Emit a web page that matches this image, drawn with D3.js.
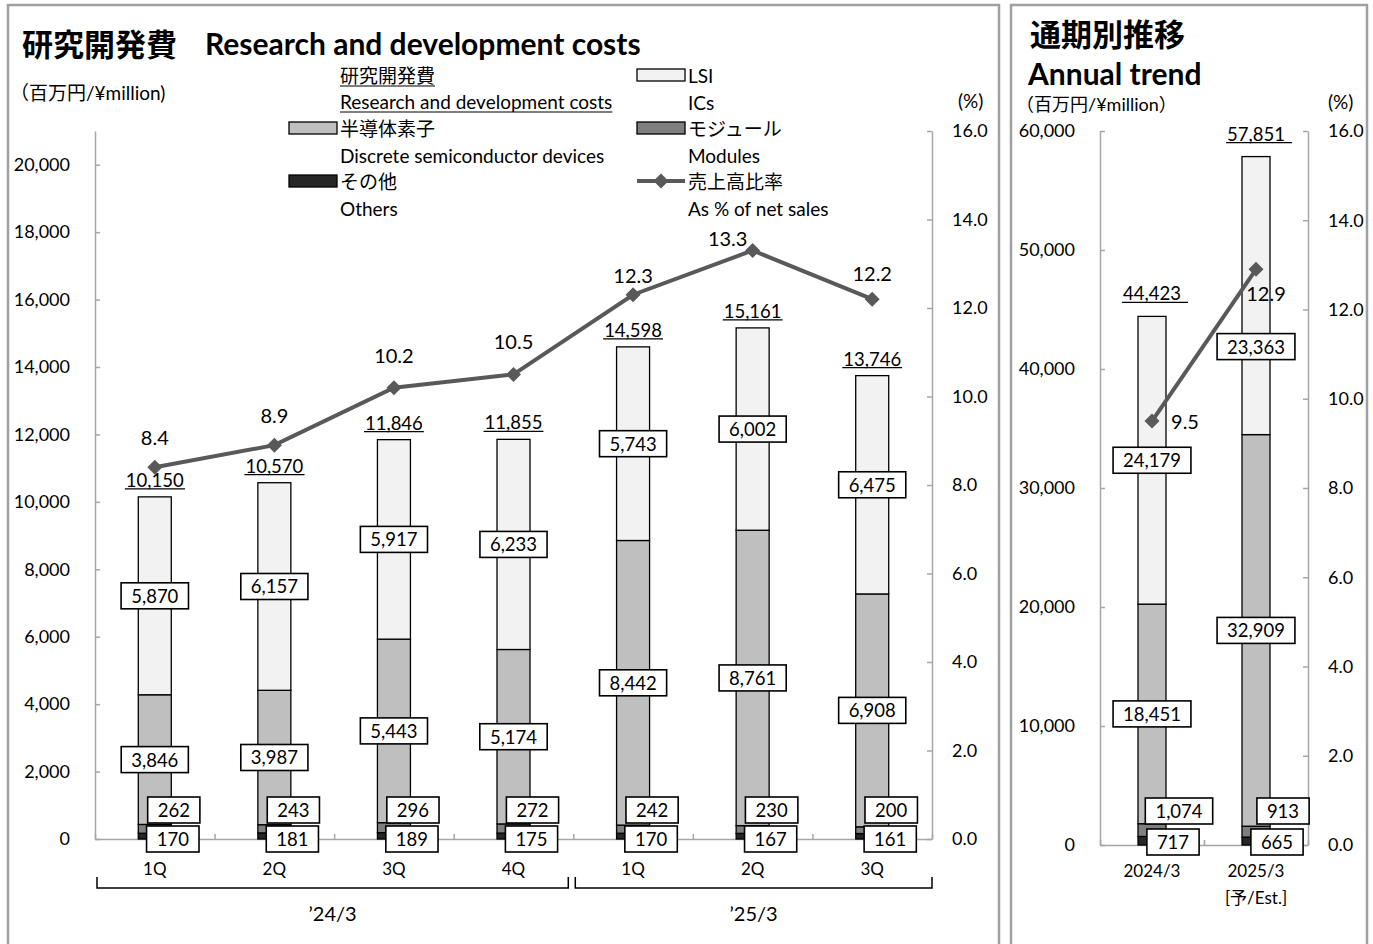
<!DOCTYPE html>
<html><head><meta charset="utf-8">
<script src="https://cdn.jsdelivr.net/npm/d3@7"></script>
<style>
body{margin:0;background:#fff;}
svg text{font-family:Lato,"Noto Sans CJK JP",sans-serif;fill:#000;}
</style></head><body>
<svg id="c" width="1373" height="944"></svg>
<script>
// ---------------- data ----------------
const quarters = ["1Q","2Q","3Q","4Q","1Q","2Q","3Q"];
const fiscalGroups = ["’24/3","’25/3"];
const lsiQ = [5870,6157,5917,6233,5743,6002,6475];
const discreteQ = [3846,3987,5443,5174,8442,8761,6908];
const modulesQ = [262,243,296,272,242,230,200];
const othersQ = [170,181,189,175,170,167,161];
const totalQ = [10150,10570,11846,11855,14598,15161,13746];
const ratioQ = [8.4,8.9,10.2,10.5,12.3,13.3,12.2];

const years = ["2024/3","2025/3"];
const yearSub = ["","[予/Est.]"];
const lsiY = [24179,23363];
const discreteY = [18451,32909];
const modulesY = [1074,913];
const othersY = [717,665];
const totalY = [44423,57851];
const ratioY = [9.5,12.9];

const quarterTicks = [0,2000,4000,6000,8000,10000,12000,14000,16000,18000,20000];
const annualTicks = [0,10000,20000,30000,40000,50000,60000];
const pctTicks = [0,2,4,6,8,10,12,14,16];

// ---------------- styles ----------------
const COLORS = {others:"#262626", modules:"#7f7f7f", discrete:"#bfbfbf", lsi:"#f2f2f2"};
const LINE = "#595959";
const AXIS = "#a6a6a6";
const JP = '"Noto Sans CJK JP",sans-serif';
const keys = ["others","modules","discrete","lsi"];

const svg = d3.select("#c");
const fmt = d3.format(",");

// panel borders
svg.append("rect").attr("x",8).attr("y",5).attr("width",991).attr("height",950)
  .attr("fill","none").attr("stroke","#a0a0a0").attr("stroke-width",2.5);
svg.append("rect").attr("x",1011).attr("y",5).attr("width",356).attr("height",950)
  .attr("fill","none").attr("stroke","#a0a0a0").attr("stroke-width",2.5);

function diamond(g, x, y){
  g.append("path").attr("d",`M${x-7.5},${y}L${x},${y-7.5}L${x+7.5},${y}L${x},${y+7.5}Z`)
   .attr("fill",LINE);
}

function boxLabel(g, x, y, txt){
  const gg = g.append("g");
  const t = gg.append("text").attr("x",x).attr("y",y).attr("text-anchor","middle")
    .attr("dominant-baseline","central").style("font-size","18.5px").text(txt);
  const bb = t.node().getBBox();
  gg.insert("rect","text").attr("x",x-bb.width/2-10).attr("y",y-13)
    .attr("width",bb.width+20).attr("height",26).attr("fill","#fff")
    .attr("stroke","#000").attr("stroke-width",1.6);
}

function underLabel(g, x, y, txt, extra){
  const t = g.append("text").attr("x",x).attr("y",y).attr("text-anchor","middle")
    .attr("dominant-baseline","central").style("font-size","18.5px").text(txt);
  const bb = t.node().getBBox();
  g.append("line").attr("x1",bb.x-1).attr("x2",bb.x+bb.width+1+extra)
    .attr("y1",y+9).attr("y2",y+9).attr("stroke","#000").attr("stroke-width",1.3);
}

function panel(o){
  const g = svg.append("g");
  const n = o.cats.length;
  const x = d3.scaleBand().domain(d3.range(n)).range([o.x0,o.x1]).padding(0);
  const xi = d3.scaleLinear().domain([0,n]).range([o.x0,o.x1]);
  const y = d3.scaleLinear().domain([0,o.max]).range([o.yb,o.yt]);
  const y2 = d3.scaleLinear().domain([0,16]).range([o.yb,o.yt]);
  const cx = i => x(i)+x.bandwidth()/2;

  // axes
  const la = g.append("g").attr("transform",`translate(${o.x0},0)`)
    .call(d3.axisLeft(y).tickValues(o.ticks).tickFormat(fmt).tickSizeInner(-5).tickSizeOuter(0).tickPadding(25));
  const ra = g.append("g").attr("transform",`translate(${o.x1},0)`)
    .call(d3.axisRight(y2).tickValues(pctTicks).tickFormat(d3.format(".1f")).tickSizeInner(-5).tickSizeOuter(0).tickPadding(20));
  const ba = g.append("g").attr("transform",`translate(0,${o.yb})`)
    .call(d3.axisBottom(xi).tickValues(d3.range(n+1)).tickFormat("").tickSizeInner(-5).tickSizeOuter(0));
  [la,ra,ba].forEach(a=>{
    a.selectAll("path,line").attr("stroke",AXIS).attr("stroke-width",1.5);
    a.selectAll("text").style("font-size","18px").style("font-family","Lato,sans-serif").attr("fill","#000");
  });

  // stacked bars
  const rows = o.cats.map((c,i)=>({others:o.others[i],modules:o.modules[i],discrete:o.discrete[i],lsi:o.lsi[i]}));
  const series = d3.stack().keys(keys)(rows);
  series.forEach(s=>{
    g.append("g").selectAll("rect").data(s).join("rect")
      .attr("x",(d,i)=>cx(i)-o.bw/2).attr("width",o.bw)
      .attr("y",d=>y(d[1])).attr("height",d=>y(d[0])-y(d[1]))
      .attr("fill",COLORS[s.key]).attr("stroke","#000").attr("stroke-width",1.3);
  });

  // ratio line
  const line = d3.line().x((d,i)=>cx(i)).y(d=>y2(d));
  g.append("path").datum(o.ratio).attr("d",line).attr("fill","none")
    .attr("stroke",LINE).attr("stroke-width",4);
  o.ratio.forEach((v,i)=>diamond(g,cx(i),y2(v)));

  // value labels
  series.forEach(s=>{
    s.forEach((d,i)=>{
      const v = d.data[s.key];
      if(s.key==="lsi"||s.key==="discrete"){
        const dy = s.key==="lsi" ? o.lsiDy[i] : 0;
        boxLabel(g, cx(i), y((d[0]+d[1])/2)+dy, fmt(v));
      } else if(s.key==="modules"){
        boxLabel(g, cx(i)+o.modDx, o.yb+o.modDy, fmt(v));
      } else {
        boxLabel(g, cx(i)+o.othDx, o.yb+o.othDy, fmt(v));
      }
    });
  });
  o.total.forEach((v,i)=>underLabel(g, cx(i), y(v)+o.totDy, fmt(v), o.totExtra));
  o.ratio.forEach((v,i)=>{
    g.append("text").attr("x",cx(i)+o.rLab[i][0]).attr("y",y2(v)+o.rLab[i][1])
      .attr("text-anchor","middle").attr("dominant-baseline","central")
      .style("font-size","20px").text(v.toFixed(1));
  });

  // category labels
  o.cats.forEach((c,i)=>{
    g.append("text").attr("x",cx(i)).attr("y",o.catY).attr("text-anchor","middle")
      .attr("dominant-baseline","central").style("font-size","17px").text(c);
    if(o.sub && o.sub[i]) g.append("text").attr("x",cx(i)).attr("y",o.catY+27).attr("text-anchor","middle")
      .attr("dominant-baseline","central").style("font-size","17px").text(o.sub[i]);
  });
  return {x,xi,y,y2,g};
}

// ---------------- left panel ----------------
const L = panel({
  cats:quarters, x0:95, x1:932, yb:839, yt:131, max:21000, ticks:quarterTicks, bw:33,
  lsi:lsiQ, discrete:discreteQ, modules:modulesQ, others:othersQ, total:totalQ, ratio:ratioQ,
  lsiDy:[0,0,0,0,0,0,0], modDx:19, modDy:-29, othDx:18, othDy:0, totDy:-17, totExtra:0,
  rLab:[[0,-30],[0,-30],[0,-33],[0,-33],[0,-20],[-25,-12],[0,-26]], catY:868
});
// fiscal-year brackets
[[0,4,2,-5],[4,7,2,0]].forEach(([a,b,da,db],k)=>{
  const xa = L.xi(a)+da, xb = L.xi(b)+db;
  svg.append("path").attr("d",`M${xa},877V888H${xb}V877`).attr("fill","none")
    .attr("stroke","#000").attr("stroke-width",1.5);
  svg.append("text").attr("x",(xa+xb)/2).attr("y",913).attr("text-anchor","middle")
    .attr("dominant-baseline","central").style("font-size","20px").text(fiscalGroups[k]);
});

// titles left
svg.append("text").attr("x",22).attr("y",42).attr("dominant-baseline","central")
  .style("font-family",JP).style("font-weight","bold").style("font-size","31px").text("研究開発費");
svg.append("text").attr("x",205).attr("y",43).attr("dominant-baseline","central")
  .style("font-weight","bold").style("font-size","30px").text("Research and development costs");
svg.append("text").attr("x",10).attr("y",92).attr("dominant-baseline","central")
  .style("font-size","19px").text("（百万円/¥million)");
svg.append("text").attr("x",958).attr("y",100).attr("dominant-baseline","central")
  .style("font-size","19px").text("(%)");

// legend
function legText(x,y,t,ul){
  const e = svg.append("text").attr("x",x).attr("y",y).attr("dominant-baseline","central")
    .style("font-size","19px").text(t);
  if(ul){const bb=e.node().getBBox();
    svg.append("line").attr("x1",x).attr("x2",x+bb.width).attr("y1",y+11).attr("y2",y+11)
      .attr("stroke","#000").attr("stroke-width",1.2);}
}
legText(340,75,"研究開発費",true);
legText(340,101,"Research and development costs",true);
const legItems = [
  {x:289,y:128,key:"discrete",jp:"半導体素子",en:"Discrete semiconductor devices"},
  {x:289,y:181,key:"others",jp:"その他",en:"Others"},
  {x:637,y:75,key:"lsi",jp:"LSI",en:"ICs"},
  {x:637,y:128,key:"modules",jp:"モジュール",en:"Modules"}
];
legItems.forEach(d=>{
  svg.append("rect").attr("x",d.x).attr("y",d.y-6).attr("width",48).attr("height",12)
    .attr("fill",COLORS[d.key]).attr("stroke","#000").attr("stroke-width",1.3);
  legText(d.x+51,d.y,d.jp,false);
  legText(d.x+51,d.y+27,d.en,false);
});
svg.append("line").attr("x1",637).attr("x2",685).attr("y1",181).attr("y2",181)
  .attr("stroke",LINE).attr("stroke-width",4);
diamond(svg,661,181);
legText(688,181,"売上高比率",false);
legText(688,208,"As % of net sales",false);

// ---------------- right panel ----------------
panel({
  cats:years, sub:yearSub, x0:1100, x1:1308, yb:845, yt:131, max:60000, ticks:annualTicks, bw:28,
  lsi:lsiY, discrete:discreteY, modules:modulesY, others:othersY, total:totalY, ratio:ratioY,
  lsiDy:[0,51], modDx:27, modDy:-34, othDx:21, othDy:-3, totDy:-23, totExtra:6,
  rLab:[[33,0],[10,24]], catY:870
});
svg.append("text").attr("x",1030).attr("y",32).attr("dominant-baseline","central")
  .style("font-family",JP).style("font-weight","bold").style("font-size","31px").text("通期別推移");
svg.append("text").attr("x",1028).attr("y",73).attr("dominant-baseline","central")
  .style("font-weight","bold").style("font-size","30px").text("Annual trend");
svg.append("text").attr("x",1016).attr("y",104).attr("dominant-baseline","central")
  .style("font-size","18px").text("（百万円/¥million）");
svg.append("text").attr("x",1328).attr("y",101).attr("dominant-baseline","central")
  .style("font-size","19px").text("(%)");
</script></body></html>
